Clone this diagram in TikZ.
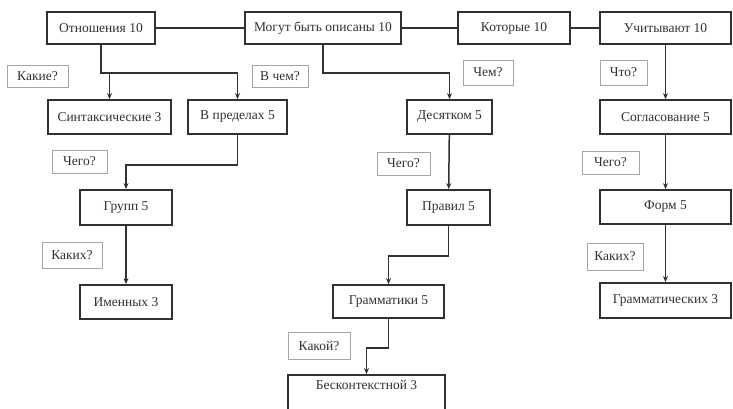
\documentclass[tikz,border=0pt]{standalone}
\usepackage{fontspec}
\setmainfont{Liberation Serif}
\usetikzlibrary{arrows.meta}
\definecolor{ink}{HTML}{333030}
\definecolor{tagline}{HTML}{A8A4A4}
\begin{document}
\begin{tikzpicture}[x=1pt,y=-1pt,
  font=\fontsize{13.5}{16}\selectfont,
  box/.style={draw=ink, line width=1.8pt, text=ink, inner sep=0pt},
  tag/.style={draw=tagline, line width=0.9pt, text=ink, inner sep=0pt},
  conn/.style={draw=ink, line width=1.5pt},
  arr/.style={conn, -{Stealth[length=6pt,width=5pt]}}]
\useasboundingbox (0,0) rectangle (733,408);
\clip (0,0) rectangle (733,408);

% top row
\node[box, minimum width=108, minimum height=32] (rel)  at (101,28)   {Отношения 10};
\node[box, minimum width=156, minimum height=32] (mog)  at (323,28)   {Могут быть описаны 10};
\node[box, minimum width=112, minimum height=32] (kot)  at (514,28)   {Которые 10};
\node[box, minimum width=131, minimum height=32] (uch)  at (665.5,28) {Учитывают 10};

% second row
\node[box, minimum width=123, minimum height=34] (sin)  at (109.5,117) {Синтаксические 3};
\node[box, minimum width=99,  minimum height=34] (pred) at (237.5,117) {В пределах 5};
\node[box, minimum width=85,  minimum height=34] (des)  at (449.5,117) {Десятком 5};
\node[box, minimum width=131, minimum height=34] (sog)  at (665.5,117) {Согласование 5};

% third row
\node[box, minimum width=92,  minimum height=35] (grp)  at (126,207.5)   {Групп 5};
\node[box, minimum width=83,  minimum height=35] (pra)  at (448.5,207.5) {Правил 5};
\node[box, minimum width=131, minimum height=34] (form) at (665.5,207)   {Форм 5};

% fourth row
\node[box, minimum width=92,  minimum height=34] (imen)  at (126,302)     {Именных 3};
\node[box, minimum width=111, minimum height=33] (gram)  at (388.5,301.5) {Грамматики 5};
\node[box, minimum width=131, minimum height=35] (gramt) at (665.5,300.5) {Грамматических 3};

% bottom box, running off the lower edge
\node[box, minimum width=157, minimum height=40, text depth=20pt] (besk) at (366.5,395) {Бесконтекстной 3};

% question tags
\node[tag, minimum width=61, minimum height=22] (q1)  at (37.5,76)    {Какие?};
\node[tag, minimum width=56, minimum height=22] (q2)  at (280,76)     {В чем?};
\node[tag, minimum width=50, minimum height=25] (q3)  at (488,72.5)   {Чем?};
\node[tag, minimum width=47, minimum height=25] (q4)  at (623.5,72.5) {Что?};
\node[tag, minimum width=55, minimum height=23] (q5)  at (79.5,161.5)  {Чего?};
\node[tag, minimum width=53, minimum height=23] (q6)  at (403.5,163.5) {Чего?};
\node[tag, minimum width=57, minimum height=23] (q7)  at (610.5,162.5) {Чего?};
\node[tag, minimum width=60, minimum height=26] (q8)  at (72,255)      {Каких?};
\node[tag, minimum width=56, minimum height=27] (q9)  at (615,256.5)   {Каких?};
\node[tag, minimum width=62, minimum height=27] (q10) at (319,345.5)   {Какой?};

% links along the top row
\draw[conn] (rel) -- (mog);
\draw[conn] (mog) -- (kot);
\draw[conn] (kot) -- (uch);

% left branch
\draw[arr] (rel.south) -- ++(0,28) coordinate (relbar) -| (pred.north);
\draw[arr] (sin.north |- relbar) -- (sin.north);
\draw[arr] (pred.south) -- ++(0,30) -| (grp.north);
\draw[arr] (grp) -- (imen);

% middle branch
\draw[arr] (mog.south) -- ++(0,28) -| (des.north);
\draw[arr] (des) -- (pra);
\draw[arr] (pra.south) -- ++(0,30) -| (gram.north);
\draw[arr] (gram.south) -- ++(0,29) -| (besk.north);

% right branch
\draw[arr] (uch) -- (sog);
\draw[arr] (sog) -- (form);
\draw[arr] (form) -- (gramt);
\end{tikzpicture}
\end{document}
